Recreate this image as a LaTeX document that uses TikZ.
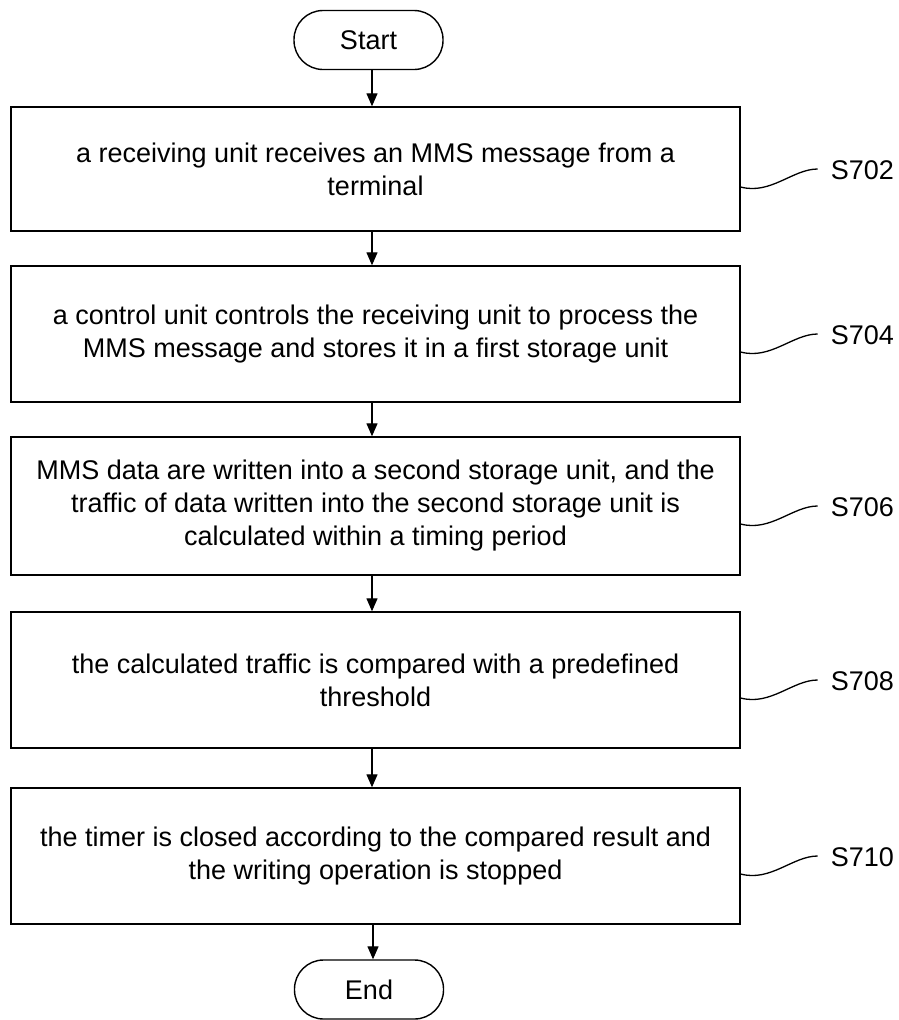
\documentclass[tikz,border=0pt]{standalone}
\usepackage{fontspec}
\setmainfont{Liberation Sans}
\usetikzlibrary{arrows.meta,calc}
\begin{document}
\begin{tikzpicture}[x=1pt,y=-1pt,
  every node/.style={font=\fontsize{27}{33}\selectfont},
  stepbox/.style={draw,line width=1.4pt,minimum width=729pt,inner sep=0pt,align=center},
  term/.style={draw,line width=1.4pt,rounded corners=29pt,minimum width=149pt,minimum height=59pt,inner sep=0pt},
  arr/.style={line width=1.3pt,-{Triangle[length=13pt,width=11pt]}},
  squig/.style={line width=1.3pt},
  steplabel/.style={anchor=west,inner sep=0pt}]
\useasboundingbox (0,0) rectangle (899,1020);
\coordinate (ax) at (372,0);
\node[term] (start) at (368.5,40) {Start};
\node[stepbox,minimum height=124pt] (b1) at (375.5,169) {a receiving unit receives an MMS message from a\\terminal};
\node[stepbox,minimum height=136pt] (b2) at (375.5,334) {a control unit controls the receiving unit to process the\\MMS message and stores it in a first storage unit};
\node[stepbox,minimum height=138pt] (b3) at (375.5,506) {MMS data are written into a second storage unit, and the\\traffic of data written into the second storage unit is\\calculated within a timing period};
\node[stepbox,minimum height=136pt] (b4) at (375.5,680) {the calculated traffic is compared with a predefined\\threshold};
\node[stepbox,minimum height=136pt] (b5) at (375.5,856) {the timer is closed according to the compared result and\\the writing operation is stopped};
\node[term] (end) at (369,989.5) {End};
\draw[arr] (start.south -| ax) -- (b1.north -| ax);
\draw[arr] (b1.south -| ax) -- (b2.north -| ax);
\draw[arr] (b2.south -| ax) -- (b3.north -| ax);
\draw[arr] (b3.south -| ax) -- (b4.north -| ax);
\draw[arr] (b4.south -| ax) -- (b5.north -| ax);
\draw[arr] ($(b5.south -| ax)+(1,0)$) -- ($(end.north -| ax)+(1,0)$);
\foreach \b/\t in {b1/S702,b2/S704,b3/S706,b4/S708,b5/S710}{
  \node[steplabel] (l\b) at ($(\b.east)+(90,1)$) {\t};
  \draw[squig] ($(\b.east)+(0,18)$) .. controls +(30,8) and +(-25,0) .. ($(l\b.west)+(-13,-1)$);
}
\end{tikzpicture}
\end{document}
